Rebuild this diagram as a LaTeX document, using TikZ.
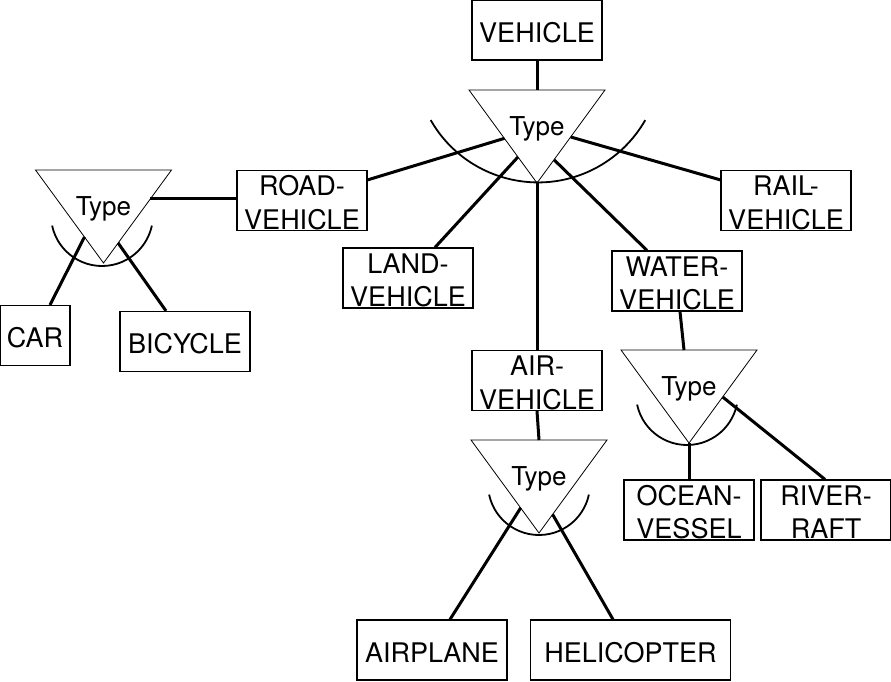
\documentclass[tikz,border=0pt]{standalone}
\usepackage{fontspec}
\setmainfont{TeX Gyre Heros}
\usetikzlibrary{calc}
\newcommand\twoline[2]{\begin{tabular}[t]{@{}c@{}}#1\\#2\end{tabular}}
\tikzset{
  box/.style={draw, line width=1.2pt, rectangle, inner sep=0pt, minimum width=130pt, minimum height=60pt, font=\fontsize{27}{33.5}\selectfont},
  one/.style={text height=24.4pt, text depth=0pt},
  two/.style={text height=20pt, text depth=29.1pt},
  tri/.style={draw, line width=0.8pt, fill=white, line join=miter},
  typelabel/.style={font=\fontsize{26}{30}\selectfont, anchor=base, inner sep=0pt},
  conn/.style={line width=3pt},
  arcline/.style={line width=1.8pt},
  gen/.pic={
    \coordinate (-top) at (0,0);
    \coordinate (-tl) at (-68,0);
    \coordinate (-tr) at (68,0);
    \coordinate (-apex) at (0,93);
    \draw[tri] (-tl) -- (-tr) -- (-apex) -- cycle;
    \node[typelabel] (-lbl) at (0,45) {Type};
  }
}
\begin{document}
\begin{tikzpicture}[x=1pt,y=-1pt]
\useasboundingbox (0,0) rectangle (891,681);

% generalisation triangles
\pic (t0) at (537,90) {gen};
\pic (t1) at (103.5,170) {gen};
\pic (t2) at (689,350) {gen};
\pic (t3) at (539,440) {gen};

% arcs
\draw[arcline] (430.7,120.1) arc[start angle=209.7, end angle=330.3, radius=123.5pt];
\draw[arcline] (52.1,225.6) arc[start angle=192, end angle=348, radius=51pt];
\draw[arcline] (637.1,404.6) arc[start angle=192, end angle=348, radius=51pt];
\draw[arcline] (489.1,494.6) arc[start angle=192, end angle=348, radius=51pt];

% boxes
\node[box,one] (vehicle) at (537,30) {VEHICLE};
\node[box,two] (road) at (302,200.5) {\twoline{ROAD-}{VEHICLE}};
\node[box,two] (rail) at (786,200.5) {\twoline{RAIL-}{VEHICLE}};
\node[box,two] (land) at (408,278) {\twoline{LAND-}{VEHICLE}};
\node[box,two] (water) at (677,281) {\twoline{WATER-}{VEHICLE}};
\node[box,two] (air) at (537,380.5) {\twoline{AIR-}{VEHICLE}};
\node[box,one,minimum width=70pt] (car) at (35,335.5) {CAR};
\node[box,one] (bicycle) at (185,341.5) {BICYCLE};
\node[box,two] (ocean) at (689,510) {\twoline{OCEAN-}{VESSEL}};
\node[box,two] (river) at (826,510) {\twoline{RIVER-}{RAFT}};
\node[box,one,minimum width=150pt] (airplane) at (432,650) {AIRPLANE};
\node[box,one,minimum width=200pt] (helicopter) at (630.5,650) {HELICOPTER};

% connectors
\draw[conn] (vehicle.south) -- (t0-top);
\draw[conn] ($(t0-tl)!0.52!(t0-apex)$) -- ([yshift=-10pt]road.north east);
\draw[conn] ($(t0-tl)!0.72!(t0-apex)$) -- ([xshift=27pt]land.north);
\draw[conn] (t0-apex) -- (air.north);
\draw[conn] ($(t0-tr)!0.75!(t0-apex)$) -- ([xshift=-30pt]water.north);
\draw[conn] ($(t0-tr)!0.505!(t0-apex)$) -- ([yshift=-10pt]rail.north west);
\coordinate (t1r) at ($(t1-tr)!0.31!(t1-apex)$);
\draw[conn] (t1r) -- (t1r -| road.west);
\draw[conn] ($(t1-tl)!0.72!(t1-apex)$) -- ([xshift=15pt]car.north);
\draw[conn] ($(t1-tr)!0.785!(t1-apex)$) -- ([xshift=-19pt]bicycle.north);
\draw[conn] ([xshift=3pt]water.south) -- ([xshift=-5pt]t2-top);
\draw[conn] (t2-apex) -- (ocean.north);
\draw[conn] ($(t2-tr)!0.505!(t2-apex)$) -- ([xshift=-1pt]river.north);
\draw[conn] (air.south) -- (t3-top);
\draw[conn] ($(t3-tl)!0.73!(t3-apex)$) -- ([xshift=18pt]airplane.north);
\draw[conn] ($(t3-tr)!0.8!(t3-apex)$) -- ([xshift=-17.5pt]helicopter.north);
\end{tikzpicture}
\end{document}
